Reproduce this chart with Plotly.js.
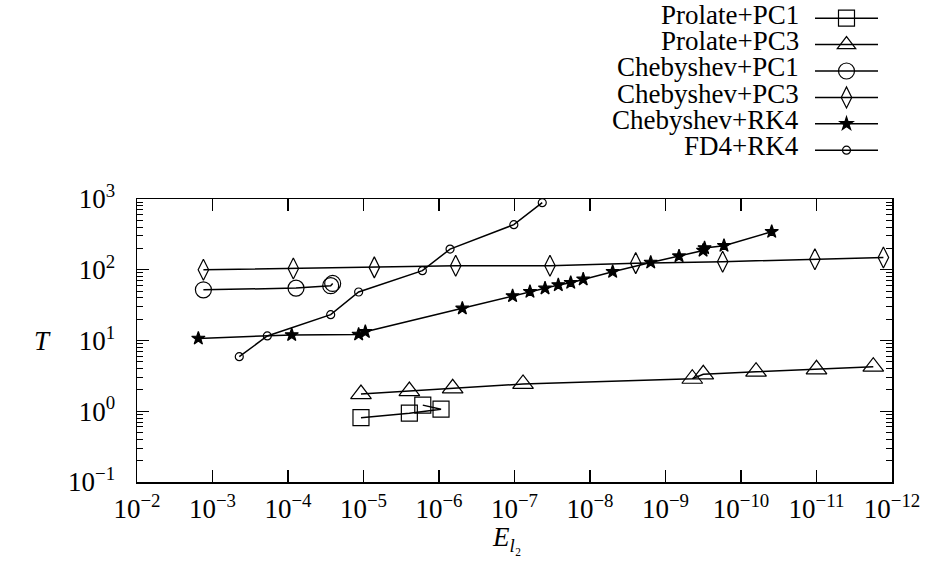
<!DOCTYPE html>
<html><head><meta charset="utf-8">
<script src="https://cdn.plot.ly/plotly-3.0.1.min.js"></script>
<style>html,body{margin:0;padding:0;background:#fff}#chart{width:928px;height:568px}</style>
</head><body><div id="chart"></div>
<script>
// ---------- data ----------
const seriesNames = ['Prolate+PC1', 'Prolate+PC3', 'Chebyshev+PC1', 'Chebyshev+PC3', 'Chebyshev+RK4', 'FD4+RK4'];

const prolatePC1X = [1.08e-5, 2.47e-6, 9.4e-7, 1.64e-6];
const prolatePC1Y = [0.81, 0.94, 1.07, 1.22];

const prolatePC3X = [1.08e-5, 2.47e-6, 6.59e-7, 7.71e-8, 4.42e-10, 3.16e-10, 6.32e-11, 1.0e-11, 1.77e-12];
const prolatePC3Y = [1.75, 1.93, 2.11, 2.43, 2.88, 3.33, 3.62, 3.92, 4.27];

const chebPC1X = [1.32e-3, 7.83e-5, 2.72e-5, 2.56e-5];
const chebPC1Y = [52, 55, 59.5, 64];

const chebPC3X = [1.32e-3, 8.5e-5, 7.19e-6, 6.01e-7, 3.39e-8, 2.48e-9, 1.75e-10, 1.05e-11, 1.30e-12];
const chebPC3Y = [100, 104, 108, 114, 114, 124, 130, 141, 149];

const chebRK4X = [1.54e-3, 8.93e-5, 1.16e-5, 9.46e-6, 4.91e-7, 1.06e-7, 6.24e-8, 3.94e-8, 2.63e-8, 1.80e-8, 1.23e-8, 5.01e-9, 1.57e-9, 6.62e-10, 3.18e-10, 3.04e-10, 1.68e-10, 3.92e-11];
const chebRK4Y = [10.7, 12.0, 12.2, 13.3, 28.5, 42.6, 49, 54.7, 60.9, 65.6, 73.3, 93.8, 127, 156, 187, 203, 219, 345];

const fd4RK4X = [4.42e-4, 1.88e-4, 2.72e-5, 1.16e-5, 1.66e-6, 7.14e-7, 1.02e-7, 4.29e-8];
const fd4RK4Y = [5.9, 11.6, 23.2, 48.5, 97, 196, 434, 887];

const xTickVals = [1e-2, 1e-3, 1e-4, 1e-5, 1e-6, 1e-7, 1e-8, 1e-9, 1e-10, 1e-11, 1e-12];
const xTickText = ['10<sup>−2</sup>', '10<sup>−3</sup>', '10<sup>−4</sup>', '10<sup>−5</sup>', '10<sup>−6</sup>', '10<sup>−7</sup>', '10<sup>−8</sup>', '10<sup>−9</sup>', '10<sup>−10</sup>', '10<sup>−11</sup>', '10<sup>−12</sup>'];
const yTickVals = [0.1, 1, 10, 100, 1000];
const yTickText = ['10<sup>−1</sup>', '10<sup>0</sup>', '10<sup>1</sup>', '10<sup>2</sup>', '10<sup>3</sup>'];

const xTitle = '<i>E</i><sub><i>l</i>₂</sub>';
const yTitle = '<i>T</i>';

// ---------- styling ----------
const FONT = 'Liberation Serif';
const markerStyles = [
  {symbol: 'square-open', size: 16},
  {symbol: 'triangle-up-open', size: 18},
  {symbol: 'circle-open', size: 16},
  {symbol: 'diamond-tall-open', size: 15},
  {symbol: 'star', size: 10},
  {symbol: 'circle-open', size: 8}
];
const xs = [prolatePC1X, prolatePC3X, chebPC1X, chebPC3X, chebRK4X, fd4RK4X];
const ys = [prolatePC1Y, prolatePC3Y, chebPC1Y, chebPC3Y, chebRK4Y, fd4RK4Y];

const traces = seriesNames.map((n, i) => ({
  type: 'scatter', mode: 'lines+markers',
  x: xs[i], y: ys[i], name: ' ', meta: n,
  hovertemplate: n + ': %{x}, %{y}<extra></extra>',
  cliponaxis: false,
  line: {color: '#000', width: 1.5},
  marker: {symbol: markerStyles[i].symbol, size: markerStyles[i].size, color: '#000',
           line: {color: '#000', width: 1.2}}
}));

const M = {l: 137, r: 36, t: 199, b: 86, autoexpand: false};
const plotH = 568 - M.t - M.b;
const plotW = 928 - M.l - M.r;
const legendRowsPx = [15, 41, 67, 94, 120, 146];
const annotations = seriesNames.map((n, i) => ({
  xref: 'paper', yref: 'paper',
  x: (801 - M.l) / plotW, xanchor: 'right',
  y: (568 - M.b - legendRowsPx[i]) / plotH, yanchor: 'middle',
  text: n, showarrow: false,
  font: {family: FONT, size: 27, color: '#000'}
}));
annotations.push({
  xref: 'paper', yref: 'paper', x: (42 - M.l) / plotW, xanchor: 'center',
  y: (568 - M.b - 341) / plotH, yanchor: 'middle',
  text: yTitle, showarrow: false, font: {family: FONT, size: 27, color: '#000'}
});
annotations.push({
  xref: 'paper', yref: 'paper', x: (506 - M.l) / plotW, xanchor: 'center',
  y: (568 - M.b - 520) / plotH, yanchor: 'top',
  text: xTitle, showarrow: false, font: {family: FONT, size: 27, color: '#000'}
});

const axisCommon = {
  showgrid: false, zeroline: false, showline: true, mirror: 'ticks',
  linecolor: '#000', linewidth: 1.5, ticks: 'inside', ticklen: 12,
  tickwidth: 1.2, tickcolor: '#000',
  tickfont: {family: FONT, size: 27, color: '#000'}
};

const layout = {
  width: 928, height: 568, margin: M,
  paper_bgcolor: '#fff', plot_bgcolor: '#fff',
  font: {family: FONT, color: '#000'},
  showlegend: true,
  legend: {x: (810 - M.l) / plotW, xanchor: 'left', y: 1 + M.t / plotH, yanchor: 'top',
           font: {family: FONT, size: 18}, bgcolor: 'rgba(0,0,0,0)', borderwidth: 0,
           itemsizing: 'trace', itemwidth: 63, tracegroupgap: 0},
  xaxis: Object.assign({}, axisCommon, {
    type: 'log', range: [-2, -12], tickmode: 'array',
    tickvals: xTickVals, ticktext: xTickText, ticklabelstandoff: 2
  }),
  yaxis: Object.assign({}, axisCommon, {
    type: 'log', range: [-1, 3], tickmode: 'array',
    tickvals: yTickVals, ticktext: yTickText, ticklabelstandoff: 15,
    minor: {ticks: 'inside', ticklen: 6, tickwidth: 1, tickcolor: '#000', dtick: 'D1', showgrid: false}
  }),
  annotations: annotations
};

Plotly.newPlot('chart', traces, layout, {displayModeBar: false, staticPlot: true});
</script>
</body></html>
